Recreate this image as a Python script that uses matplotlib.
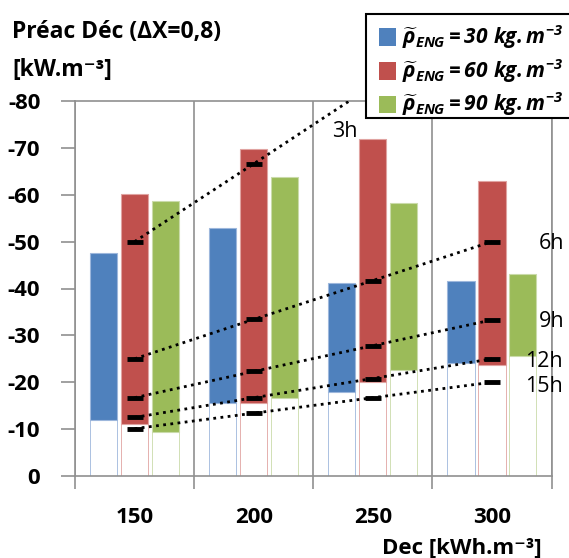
import matplotlib
matplotlib.use("Agg")
import matplotlib.pyplot as plt
from matplotlib.patches import Rectangle
import numpy as np

plt.rcParams['font.family'] = ['Open Sans', 'DejaVu Sans']
plt.rcParams['mathtext.fontset'] = 'custom'
plt.rcParams['mathtext.rm'] = 'Open Sans:bold:italic'
plt.rcParams['mathtext.it'] = 'Open Sans:bold:italic'
plt.rcParams['mathtext.bf'] = 'Open Sans:bold:italic'

# ---- data ----
categories = ['150', '200', '250', '300']
series_names = ['30', '60', '90']
# bar ranges (bottom, top), values are negative powers
blue_bottom = [-12.0, -15.6, -17.9, -24.2]
blue_top = [-47.6, -52.9, -41.1, -41.6]
red_bottom = [-11.1, -15.6, -20.1, -23.7]
red_top = [-60.1, -69.7, -71.8, -63.0]
green_bottom = [-9.4, -16.7, -22.7, -25.7]
green_top = [-58.7, -63.7, -58.2, -43.1]

# duration lines (on the red bars)
line_labels = ['3h', '6h', '9h', '12h', '15h']
line_3h = [-50.0, -66.6, -83.3, -100.0]
line_6h = [-25.0, -33.4, -41.7, -50.0]
line_9h = [-16.7, -22.3, -27.8, -33.3]
line_12h = [-12.5, -16.7, -20.8, -25.0]
line_15h = [-10.1, -13.4, -16.7, -20.0]

colors = ['#4F81BD', '#C0504D', '#9BBB59']
edge_colors = ['#9DB7DC', '#E0A3A1', '#CADBAA']

fig = plt.figure(figsize=(5.69, 5.58), dpi=100)
ax = fig.add_axes([75/569, 82/558, (551.5-75)/569, (476-101)/558])

x = np.arange(len(categories))
width = 0.228
offsets = [-0.26, 0.0, 0.26]
bottoms = [blue_bottom, red_bottom, green_bottom]
tops = [blue_top, red_top, green_top]
for i in range(3):
    b = np.array(bottoms[i])
    t = np.array(tops[i])
    # invisible base bar with faint edges
    ax.bar(x + offsets[i], b, width, color='none', edgecolor=edge_colors[i],
           linewidth=0.6, zorder=2)
    ax.bar(x + offsets[i], t - b, width, bottom=b, color=colors[i],
           edgecolor=edge_colors[i], linewidth=0.8, zorder=3)

lines = [line_3h, line_6h, line_9h, line_12h, line_15h]
for vals in lines:
    ax.plot(x, vals, linestyle=(0, (1, 1.6)), color='black', linewidth=2.0,
            zorder=4)
    ax.plot(x, vals, linestyle='none', marker='_', markersize=11,
            markeredgewidth=3.5, color='black', zorder=5)

ax.set_xlim(-0.5, 3.5)
ax.set_ylim(0, -80)

label_pos = [(1.654, -73.4), (3.39, -49.6), (3.39, -33.0), (3.28, -24.5), (3.28, -19.1)]
for lab, (lx, ly) in zip(line_labels, label_pos):
    ax.text(lx, ly, lab, fontsize=15.5, ha='left', va='center', color='black',
            clip_on=False, zorder=6)

# axes styling
for sp in ax.spines.values():
    sp.set_color('#909090')
    sp.set_linewidth(1.2)
ax.set_xticks(np.arange(-0.5, 4.0, 1.0))
ax.set_xticklabels([])
ax.set_xticks(x, minor=True)
ax.set_xticklabels(categories, minor=True, fontsize=16, fontweight='bold')
ax.tick_params(axis='x', which='major', length=9, width=1.2, color='#909090', direction='out')
ax.tick_params(axis='x', which='minor', length=0, pad=22)
ax.set_yticks(np.arange(0, -81, -10))
ax.set_yticklabels([str(v) for v in range(0, -81, -10)], fontsize=16, fontweight='bold')
ax.tick_params(axis='y', length=10, width=1.2, color='#909090', direction='out', pad=15)
ax.grid(axis='x', which='major', color='#909090', linewidth=1.2, zorder=0)
ax.set_axisbelow(True)

# titles
fig.text(12/569, 1 - 32/558, 'Préac Déc (ΔX=0,8)', fontsize=16.5, fontweight='bold',
         ha='left', va='center')
fig.text(12/569, 1 - 70/558, '[kW.m⁻³]', fontsize=16.5, fontweight='bold',
         ha='left', va='center')
fig.text(542/569, 1 - 548/558, 'Dec [kWh.m⁻³]', fontsize=16, fontweight='bold',
         ha='right', va='center')

# legend box
W, H = 569, 558
fig.patches.append(Rectangle((365.7/W, 1 - 118/H), 220/W, 104/H, transform=fig.transFigure,
                             facecolor='white', edgecolor='black', linewidth=1.5, zorder=10))
row_y = [37, 71, 104]
for i in range(3):
    fig.patches.append(Rectangle((379/W, 1 - (row_y[i] + 8.5)/H), 17.5/W, 17/H,
                                 transform=fig.transFigure, facecolor=colors[i],
                                 edgecolor='none', zorder=11))
    fig.text(402/W, 1 - row_y[i]/H,
             r'$\widetilde{\rho}_{ENG} = ' + series_names[i] + r'\ kg{.}m^{-3}$',
             fontsize=15.0, ha='left', va='center', zorder=12)

fig.savefig('out.png', dpi=100)
